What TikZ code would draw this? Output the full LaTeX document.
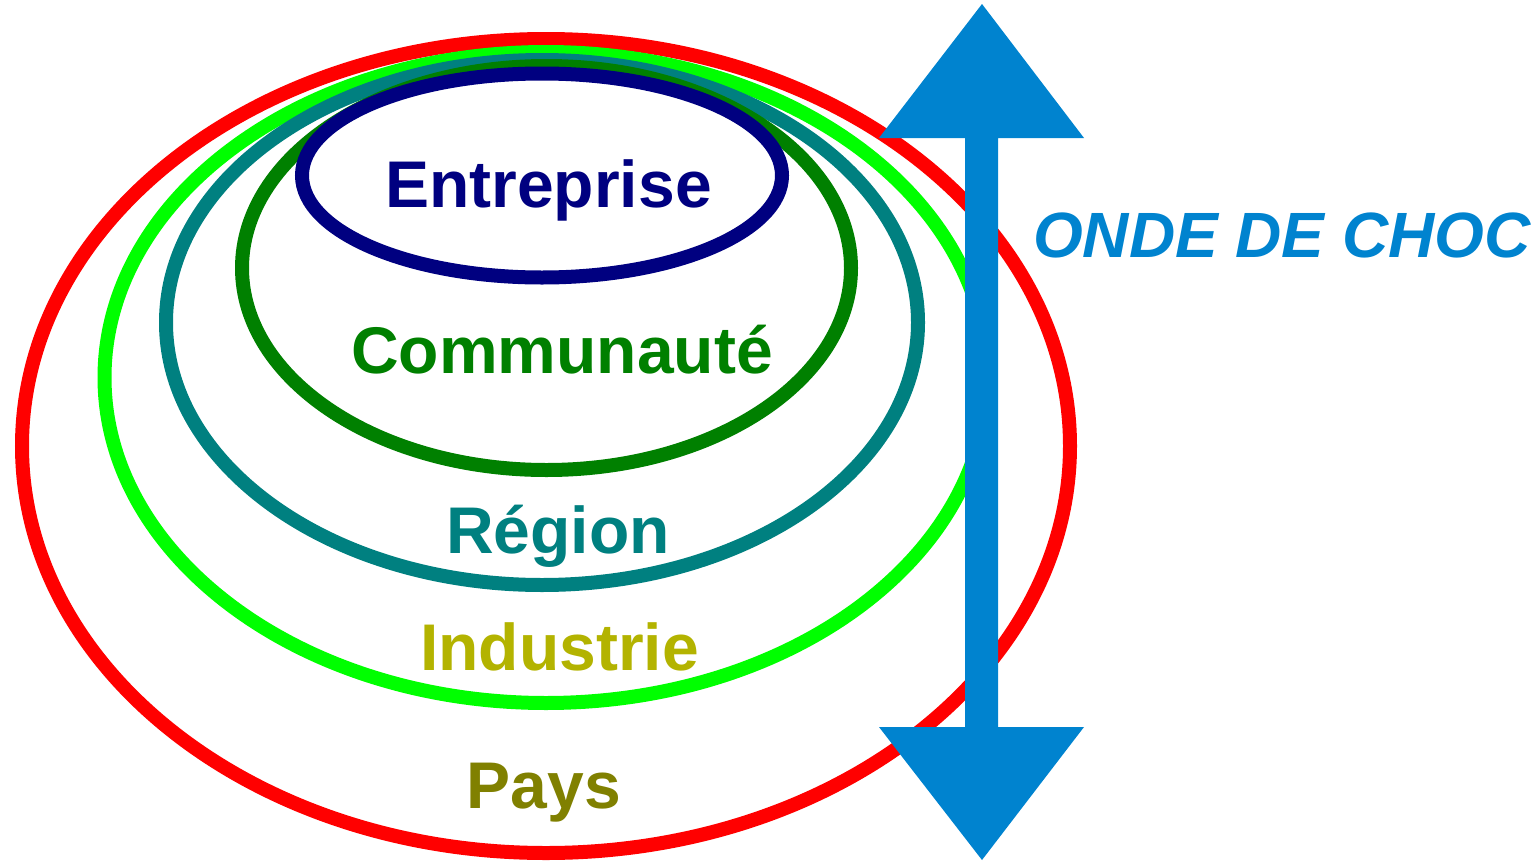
\documentclass[tikz,border=0pt]{standalone}
\usepackage{fontspec}
\setmainfont{Liberation Sans}
\definecolor{cnavy}{HTML}{000080}
\definecolor{cgreen}{HTML}{008000}
\definecolor{cteal}{HTML}{008080}
\definecolor{clime}{HTML}{00FF00}
\definecolor{cred}{HTML}{FF0000}
\definecolor{cyell}{HTML}{B3B300}
\definecolor{colive}{HTML}{808000}
\definecolor{cblue}{HTML}{0083CF}
\tikzset{
  ring/.style={line width=14pt},
  lbl/.style={anchor=base, inner sep=0pt, font=\fontsize{66}{79}\selectfont\bfseries},
  choc/.style={anchor=base, inner sep=0pt, font=\fontsize{64}{76}\selectfont\bfseries\itshape, text=cblue},
  shock/.style={fill=cblue, draw=none}
}
\begin{document}
\begin{tikzpicture}[x=1pt,y=-1pt]
\useasboundingbox (0,0) rectangle (1534,862);
% rings, outer first
\draw[ring, cred]   (546,446)   ellipse [x radius=524, y radius=407];
\draw[ring, clime]  (546,377.5) ellipse [x radius=441.5, y radius=325.5];
\draw[ring, cteal]  (542,322.5) ellipse [x radius=376, y radius=262.5];
\draw[ring, cgreen] (546.5,268) ellipse [x radius=304.5, y radius=202];
\draw[ring, cnavy]  (542,175.5) ellipse [x radius=240, y radius=102];
% labels
\node[lbl, text=cnavy]  (ent) at (548.5,207) {Entreprise};
\node[lbl, text=cgreen] (com) at (562,373) {Communauté};
\node[lbl, text=cteal]  (reg) at (558,553) {Région};
\node[lbl, text=cyell]  (ind) at (559.5,670) {Industrie};
\node[lbl, text=colive] (pay) at (544,808) {Pays};
% double arrow
\fill[shock] (982,4) -- (1084,138) -- (998,138) -- (998,727) -- (1084,727)
  -- (982,860) -- (879,727) -- (965,727) -- (965,138) -- (879,138) -- cycle;
\node[choc] (onde) at (1282,257) {ONDE DE CHOC};
\end{tikzpicture}
\end{document}
